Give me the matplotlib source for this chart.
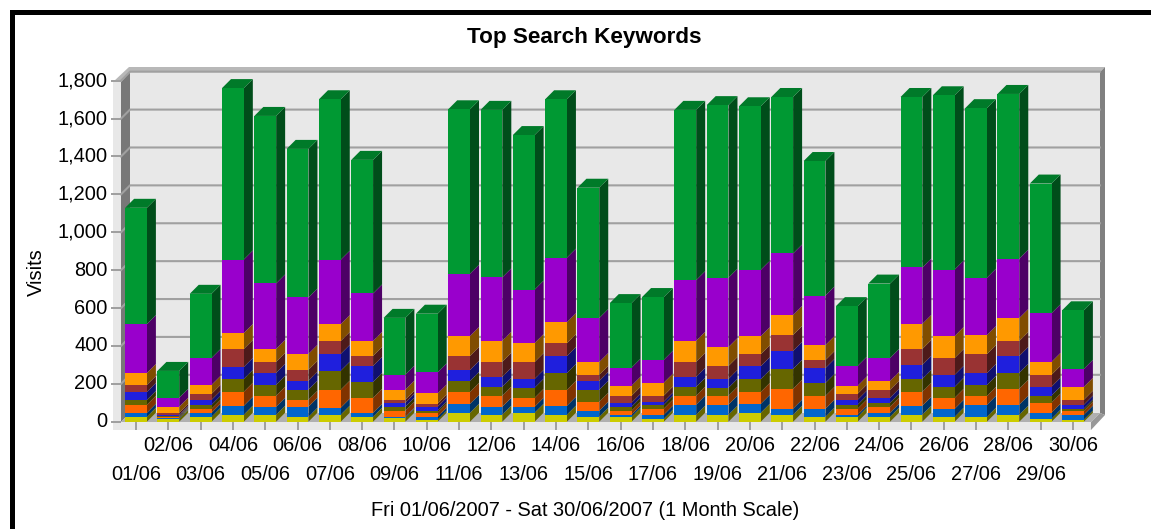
import matplotlib
matplotlib.use('Agg')
import matplotlib.pyplot as plt
from matplotlib.patches import Polygon, Rectangle
from matplotlib.colors import to_rgb

plt.rcParams['font.family'] = ['Liberation Sans', 'DejaVu Sans']

# Datos (visitas por dia, de abajo hacia arriba)
dias = ['%02d/06' % d for d in range(1, 31)]
amarillo = [26, 16, 26, 37, 37, 26, 37, 26, 21, 11, 47, 37, 47, 37, 26, 26, 16, 37, 37, 47, 37, 26, 26, 26, 37, 26, 26, 37, 16, 11]
azul = [21, 5, 21, 47, 42, 53, 37, 21, 5, 16, 47, 42, 32, 47, 32, 11, 21, 53, 53, 47, 32, 42, 11, 21, 47, 42, 63, 53, 32, 26]
naranja = [42, 5, 21, 74, 58, 37, 95, 79, 32, 21, 63, 58, 47, 84, 47, 21, 32, 47, 47, 63, 105, 68, 32, 32, 74, 58, 47, 84, 53, 21]
oliva = [26, 5, 21, 68, 58, 53, 100, 84, 21, 11, 58, 47, 53, 89, 63, 21, 21, 47, 42, 68, 105, 68, 21, 21, 68, 58, 58, 84, 37, 11]
indigo = [42, 5, 26, 63, 63, 47, 89, 84, 21, 21, 58, 53, 47, 89, 47, 21, 16, 53, 47, 68, 95, 79, 26, 26, 74, 63, 63, 89, 47, 21]
marron = [37, 11, 32, 95, 58, 58, 68, 53, 16, 16, 74, 79, 89, 68, 32, 37, 32, 79, 68, 63, 84, 42, 32, 42, 84, 89, 100, 79, 63, 26]
ambar = [63, 32, 47, 84, 68, 84, 89, 79, 53, 53, 105, 111, 100, 111, 68, 53, 68, 111, 100, 95, 105, 79, 42, 47, 132, 116, 100, 121, 68, 68]
morado = [258, 47, 142, 388, 346, 298, 340, 251, 79, 111, 329, 335, 282, 341, 232, 95, 121, 320, 366, 351, 325, 262, 105, 121, 298, 351, 303, 314, 257, 95]
verde = [614, 142, 339, 905, 884, 784, 847, 705, 300, 310, 868, 884, 816, 836, 688, 341, 331, 899, 911, 863, 826, 710, 315, 393, 900, 920, 895, 869, 684, 309]

series = [amarillo, azul, naranja, oliva, indigo, marron, ambar, morado, verde]
colores = ['#cccc00', '#0066cc', '#ff6600', '#666600', '#1f1fdd', '#993333', '#ff9900', '#9900cc', '#009933']

W, H = 1151, 529
PASO = 32.31      # pixeles entre dias
ESCALA = 341 / 1800  # pixeles por visita
PROF = 9          # profundidad 3D en pixeles
ANCHO = 21.8      # ancho de barra en pixeles
dx = PROF / PASO
dy = PROF / ESCALA


def px(puntos):
    return [(x / W, 1 - y / H) for x, y in puntos]


def oscurecer(color, f):
    return tuple(c * f for c in to_rgb(color))


def caja(fig, puntos, color):
    fig.add_artist(Polygon(px(puntos), closed=True, fc=color, ec='none', zorder=-1,
                           transform=fig.transFigure))


fig = plt.figure(figsize=(W / 100, H / 100), dpi=100)

# Marco negro (solo se ven arriba e izquierda)
fig.add_artist(Rectangle((11.5 / W, -0.1), 1.2, 1 - 11.5 / H + 0.1, fc='none', ec='black', lw=3.6,
                         zorder=-2, transform=fig.transFigure))

# Caja 3D del grafico
caja(fig, [(130, 72), (1100, 72), (1100, 413), (130, 413)], '#e8e8e8')
caja(fig, [(113, 82), (129, 67), (1105, 67), (1100, 72), (130, 72), (121, 82)], '#b8b8b8')
caja(fig, [(121, 82), (130, 72), (130, 413), (121, 422)], '#787878')
caja(fig, [(1100, 72), (1105, 67), (1105, 415), (1100, 413)], '#808080')
caja(fig, [(121, 422), (130, 413), (1100, 413), (1091, 422)], '#b0b0b0')
caja(fig, [(1091, 422), (1100, 413), (1105, 415), (1091, 430)], '#989898')
caja(fig, [(113, 82), (121, 82), (121, 422), (1091, 422), (1091, 430), (113, 430)], '#e8e8e8')

ax = fig.add_axes([121 / W, 1 - 421.7 / H, 970 / W, 341 / H])
ax.patch.set_visible(False)
for lado in ax.spines.values():
    lado.set_visible(False)
ax.set_xlim(-15 / PASO, 955 / PASO)
ax.set_ylim(0, 1800)

# Cuadricula sobre la pared del fondo y su tramo inclinado
x_min, x_max = ax.get_xlim()
marcas_y = list(range(0, 2000, 200))
for v in marcas_y[1:]:
    ax.plot([x_min, x_min + dx, x_max + dx], [v, v + dy, v + dy], color='#a0a0a0', lw=1.5,
            clip_on=False, zorder=1, solid_joinstyle='miter')

# Barras apiladas con cara frontal, lateral y superior
ancho = ANCHO / PASO
for i in range(len(dias)):
    base = 0
    izq, der = i - ancho / 2, i + ancho / 2
    for j, valores in enumerate(series):
        v = valores[i]
        color = colores[j]
        ax.bar(i, v, width=ancho, bottom=base, color=color, linewidth=0, zorder=3, clip_on=False)
        ax.add_patch(Polygon([(der, base), (der + dx, base + dy), (der + dx, base + v + dy), (der, base + v)],
                             closed=True, fc=oscurecer(color, 0.5), ec='none', zorder=2, clip_on=False))
        base += v
    ax.add_patch(Polygon([(izq, base), (der, base), (der + dx, base + dy), (izq + dx, base + dy)],
                         closed=True, fc=oscurecer(colores[-1], 0.8), ec='none', zorder=2, clip_on=False))

# Ejes y etiquetas
ax.set_yticks(marcas_y)
ax.set_yticklabels(['{:,}'.format(v) for v in marcas_y], fontsize=14.4, color='black', va='center')
ax.tick_params(axis='y', length=7.2, width=1.44, color='#a0a0a0', pad=2.5)
ax.set_xticks(range(len(dias)))
ax.set_xticklabels(dias, fontsize=14.4, color='black')
ax.tick_params(axis='x', length=5.7, width=1.44, color='#a0a0a0')
for i, tick in enumerate(ax.xaxis.get_major_ticks()):
    tick.set_pad(25.5 if i % 2 == 0 else 4.5)

fig.text(584.5 / W, 1 - 37 / H, 'Top Search Keywords', fontsize=16.2, fontweight='bold', ha='center', va='center')
fig.text(585 / W, 1 - 511 / H, 'Fri 01/06/2007 - Sat 30/06/2007 (1 Month Scale)', fontsize=14.4, ha='center', va='center')
fig.text(36 / W, 1 - 272 / H, 'Visits', fontsize=14.4, rotation=90, ha='center', va='center')

fig.savefig('out.png', dpi=100)
